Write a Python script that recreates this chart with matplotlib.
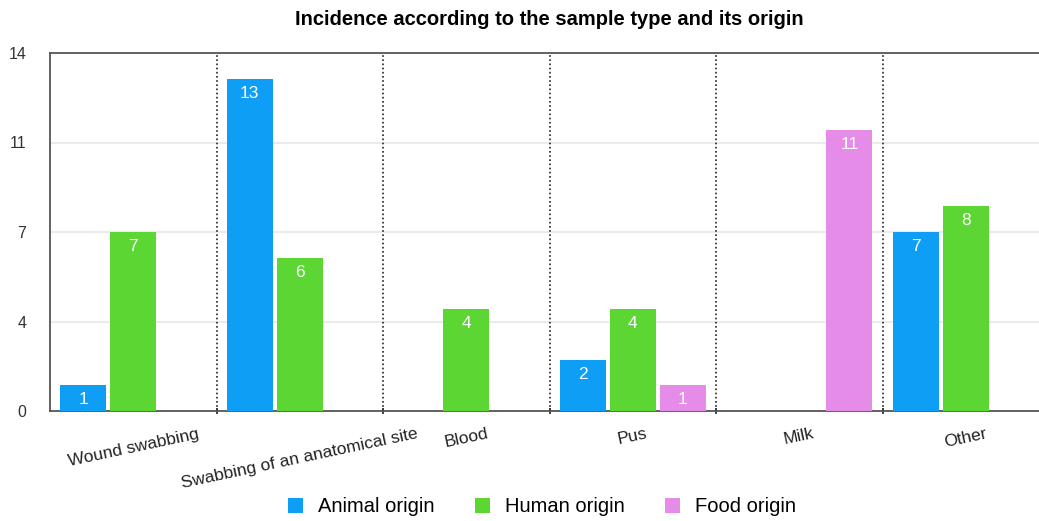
import matplotlib.pyplot as plt
import numpy as np

plt.rcParams['font.family'] = ['Liberation Sans', 'DejaVu Sans']

# data
categories = ['Wound swabbing', 'Swabbing of an anatomical site', 'Blood',
              'Pus', 'Milk', 'Other']
animal = [1, 13, 0, 2, 0, 7]
human = [7, 6, 4, 4, 0, 8]
food = [0, 0, 0, 1, 11, 0]
series_names = ['Animal origin', 'Human origin', 'Food origin']
colors = ['#0e9ef5', '#5bd633', '#e58be8']
ytick_vals = [0, 3.5, 7, 10.5, 14]
ytick_labels = ['0', '4', '7', '11', '14']

fig = plt.figure(figsize=(10.39, 5.21), dpi=100)
# right edge of the plot runs past the picture, as in the original
ax = fig.add_axes([50/1039, 110/521, 999/1039, 358/521])

x = np.arange(len(categories))
width = 0.277
step = 0.301
for i, (vals, name, c) in enumerate(zip([animal, human, food], series_names, colors)):
    xs = x + (i - 1) * step
    ax.bar(xs, vals, width=width, color=c, label=name, zorder=3)
    for xx, v in zip(xs, vals):
        if v > 0:
            ax.annotate(str(v), (xx, v), xytext=(0, -5), textcoords='offset points',
                        ha='center', va='top', color='white', fontsize=12.5,
                        fontweight='medium', zorder=4)

ax.set_xlim(-0.5, len(categories) - 0.5)
ax.set_ylim(0, 14)

# gridlines and dotted group separators
for yv in ytick_vals[1:-1]:
    ax.axhline(yv, color='#ebebeb', lw=1.5, zorder=1)
for s in x[:-1] + 0.5:
    ax.axvline(s, color='#222222', ls=(0, (1, 1.5)), lw=1.2, zorder=2)

ax.set_yticks(ytick_vals)
ax.set_yticklabels(ytick_labels, fontsize=11.5, color='#333333')
ax.tick_params(axis='y', length=0, pad=17)

ax.set_xticks(x)
ax.set_xticklabels(categories, rotation=12, ha='center', fontsize=12.5, color='#222222')
ax.set_xticks(x[:-1] + 0.5, minor=True)
ax.tick_params(axis='x', which='major', length=0, pad=11)
ax.tick_params(axis='x', which='minor', length=4, width=1.2, color='#222222', direction='inout')

for side in ['left', 'bottom', 'top']:
    ax.spines[side].set_color('#555555')
    ax.spines[side].set_linewidth(1.3)
ax.spines['right'].set_visible(False)

ax.set_title('Incidence according to the sample type and its origin',
             fontsize=14.5, fontweight='bold', pad=20)

ax.legend(loc='center', bbox_to_anchor=(0.4925, -0.268), ncol=3, frameon=False,
          fontsize=14.5, handlelength=0.75, handleheight=0.75, handletextpad=0.75,
          columnspacing=2.0)

fig.savefig('out.png', dpi=100)
